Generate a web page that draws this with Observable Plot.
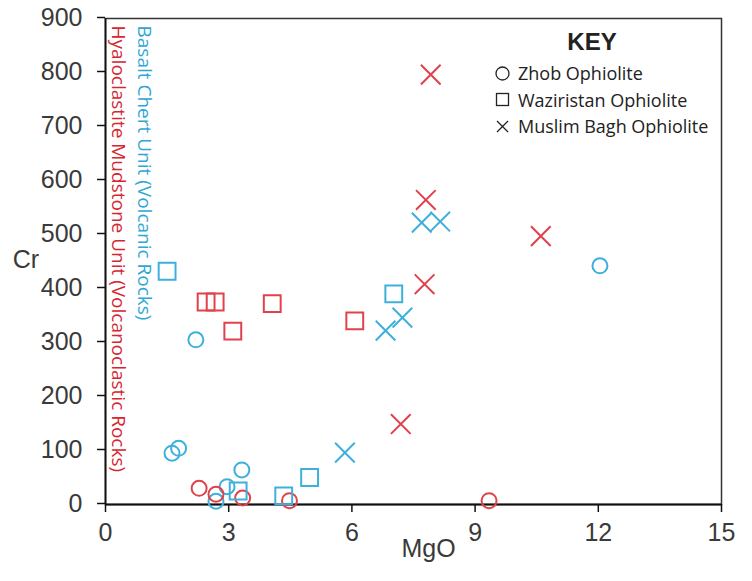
<!DOCTYPE html>
<html><head><meta charset="utf-8">
<script src="https://cdn.jsdelivr.net/npm/d3@7"></script>
<script src="https://cdn.jsdelivr.net/npm/@observablehq/plot@0.6"></script>
<style>
body{margin:0;background:#fff;}
#wrap{position:relative;width:752px;height:581px;}
#key{position:absolute;left:495px;top:27px;font-family:"Open Sans",sans-serif;font-size:18px;color:#222;}
#key .title{position:absolute;left:47px;top:0;width:100px;text-align:center;font-family:"Liberation Sans",Arial,sans-serif;font-weight:bold;font-size:24px;line-height:30px;color:#222;}
#key .row{position:absolute;left:0;display:flex;align-items:center;height:26px;white-space:nowrap;}
#key svg{margin-right:8px;}
</style></head><body><div id="wrap"></div>
<script>
// Category names
const units = ["Basalt Chert Unit (Volcanic Rocks)", "Hyaloclastite Mudstone Unit (Volcanoclastic Rocks)"];
const ophiolites = ["Zhob Ophiolite", "Waziristan Ophiolite", "Muslim Bagh Ophiolite"];
const xTicks = [0, 3, 6, 9, 12, 15];
const yTicks = [0, 100, 200, 300, 400, 500, 600, 700, 800, 900];

// [MgO, Cr] pairs — Basalt Chert Unit (blue)
const basaltZhob = [[2.2, 305], [1.62, 95], [1.78, 104], [3.32, 64], [2.96, 33], [2.69, 6], [12.04, 442]];
const basaltWaziristan = [[1.5, 432], [7.02, 390], [4.97, 50], [4.34, 16], [3.23, 25]];
const basaltMuslimBagh = [[5.83, 96], [6.82, 322], [7.23, 346], [7.7, 522], [8.15, 524]];
// Hyaloclastite Mudstone Unit (red)
const hyaloZhob = [[2.28, 30], [2.69, 19], [3.34, 12], [4.48, 7], [9.34, 7]];
const hyaloWaziristan = [[2.45, 375], [2.67, 375], [3.1, 321], [4.06, 372], [6.07, 340]];
const hyaloMuslimBagh = [[7.92, 796], [7.8, 564], [7.77, 408], [10.6, 497], [7.19, 149]];

const blue = "#3eb0dc", red = "#e0424c";
const symbols = {"Zhob Ophiolite": "circle", "Waziristan Ophiolite": "square", "Muslim Bagh Ophiolite": "times"};

function rows(arr, unit, oph) { return arr.map(([MgO, Cr]) => ({MgO, Cr, unit, oph})); }
const data = [
  ...rows(basaltZhob, units[0], ophiolites[0]),
  ...rows(basaltWaziristan, units[0], ophiolites[1]),
  ...rows(basaltMuslimBagh, units[0], ophiolites[2]),
  ...rows(hyaloZhob, units[1], ophiolites[0]),
  ...rows(hyaloWaziristan, units[1], ophiolites[1]),
  ...rows(hyaloMuslimBagh, units[1], ophiolites[2])
];
const colorOf = d => d.unit === units[0] ? blue : red;
const byOph = o => data.filter(d => d.oph === o);

const axisFont = {fontSize: 25, fontFamily: "'Liberation Sans', Arial, sans-serif", fill: "#3a3a3a"};

const chart = Plot.plot({
  width: 752, height: 581,
  marginLeft: 105, marginRight: 31, marginTop: 18, marginBottom: 77,
  style: {background: "#fff", overflow: "visible"},
  x: {domain: [0, 15], axis: null},
  y: {domain: [0, 900], axis: null},
  marks: [
    Plot.frame({stroke: "#333", strokeWidth: 1.5}),
    Plot.axisY({ticks: yTicks, tickSize: 8, tickPadding: 15, label: null, stroke: "#111", strokeWidth: 1.5, dy: -1, ...axisFont}),
    Plot.axisX({ticks: xTicks, tickSize: 8, tickPadding: 11, label: null, stroke: "#111", strokeWidth: 1.5, ...axisFont}),
    Plot.ruleX([0], {stroke: "#111", strokeWidth: 1.8}),
    Plot.ruleY([0], {stroke: "#111", strokeWidth: 1.8}),
    Plot.text(["Cr"], {frameAnchor: "left", dx: -79.5, dy: -2, textAnchor: "middle", ...axisFont}),
    Plot.text(["MgO"], {frameAnchor: "bottom", dx: 15, dy: 52, textAnchor: "middle", ...axisFont}),
    Plot.text([units[0]], {frameAnchor: "top-left", dx: 46, dy: 7, rotate: 90, textAnchor: "start", fill: "#2fa6d6", fontSize: 19, fontFamily: "'Open Sans', sans-serif"}),
    Plot.text([units[1]], {frameAnchor: "top-left", dx: 20, dy: 7, rotate: 90, textAnchor: "start", fill: "#d62630", fontSize: 19, fontFamily: "'Open Sans', sans-serif"}),
    Plot.dot(byOph(ophiolites[0]), {x: "MgO", y: "Cr", symbol: () => "circle", r: 7.5, stroke: colorOf, strokeWidth: 2, fill: "none"}),
    Plot.dot(byOph(ophiolites[1]), {x: "MgO", y: "Cr", symbol: () => "square", r: 9.5, stroke: colorOf, strokeWidth: 2, fill: "none"}),
    Plot.dot(byOph(ophiolites[2]), {x: "MgO", y: "Cr", symbol: () => "times", r: 9, stroke: colorOf, strokeWidth: 2, fill: "none"})
  ],
  symbol: {type: "identity"}
});
const wrap = document.getElementById("wrap");
wrap.appendChild(chart);

// Key
const key = document.createElement("div");
key.id = "key";
const glyph = {
  "circle": '<circle cx="7.5" cy="7.5" r="6.5" fill="none" stroke="#222" stroke-width="1.3"/>',
  "square": '<rect x="1.5" y="1.5" width="12" height="12" fill="none" stroke="#222" stroke-width="1.3"/>',
  "times": '<path d="M2,2L13,13M2,13L13,2" stroke="#222" stroke-width="1.3"/>'
};
key.innerHTML = '<div class="title">KEY</div>' + ophiolites.map((o, i) =>
  `<div class="row" style="top:${33 + i * 26.5}px"><svg width="15" height="15">${glyph[symbols[o]]}</svg><span>${o}</span></div>`).join("");
wrap.appendChild(key);
</script>
</body></html>
